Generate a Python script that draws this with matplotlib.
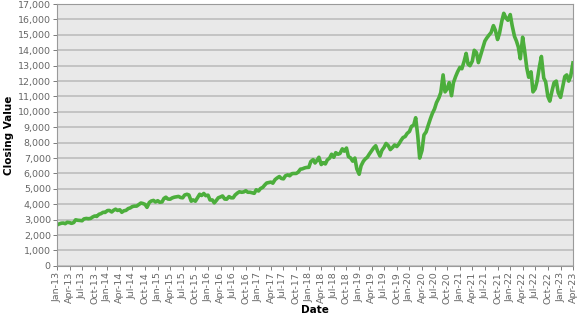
import numpy as np
import pandas as pd
import matplotlib
matplotlib.use("Agg")
import matplotlib.pyplot as plt
import matplotlib.dates as mdates

# semi-monthly closing values (1st and 15th of each month), Jan 2013 - Apr 2023
values_2013 = [2660, 2720, 2770, 2780, 2740, 2830, 2810, 2760, 2810, 2990, 2960, 2950,
               2930, 3050, 3080, 3060, 3080, 3170, 3240, 3210, 3350, 3390, 3480, 3470]
values_2014 = [3590, 3600, 3500, 3610, 3680, 3600, 3640, 3480, 3580, 3600, 3720, 3760,
               3850, 3880, 3880, 3970, 4080, 4050, 3990, 3800, 4120, 4210, 4250, 4150]
values_2015 = [4230, 4130, 4150, 4380, 4460, 4340, 4330, 4410, 4460, 4480, 4510, 4440,
               4420, 4600, 4650, 4600, 4200, 4280, 4200, 4400, 4650, 4570, 4700, 4560]
values_2016 = [4590, 4280, 4280, 4090, 4250, 4420, 4480, 4540, 4340, 4330, 4500, 4420,
               4420, 4600, 4730, 4810, 4780, 4800, 4880, 4780, 4780, 4750, 4710, 4940]
values_2017 = [4860, 5020, 5100, 5250, 5380, 5410, 5440, 5370, 5600, 5700, 5800, 5680,
               5650, 5850, 5910, 5850, 5990, 6000, 6000, 6080, 6280, 6300, 6360, 6390]
values_2018 = [6400, 6770, 6900, 6680, 6850, 7050, 6580, 6700, 6620, 6880, 7000, 7250,
               7050, 7350, 7250, 7300, 7600, 7450, 7650, 7100, 7000, 6800, 7000, 6300]
values_2019 = [5950, 6500, 6800, 6950, 7050, 7250, 7470, 7650, 7800, 7450, 7130, 7500,
               7700, 7950, 7800, 7550, 7700, 7850, 7750, 7900, 8150, 8330, 8400, 8600]
values_2020 = [8730, 9050, 9150, 9620, 8460, 7000, 7500, 8500, 8700, 9100, 9560, 9900,
               10200, 10600, 10900, 11250, 12400, 11300, 11500, 11900, 11050, 11900, 12300, 12600]
values_2021 = [12890, 12800, 13300, 13800, 13100, 13000, 13300, 14000, 13850, 13200, 13700, 14100,
               14600, 14800, 15000, 15150, 15600, 15300, 14700, 15100, 15900, 16400, 16100, 15950]
values_2022 = [16320, 15600, 14900, 14600, 14200, 13450, 14850, 14000, 12850, 12250, 12600, 11300,
               11500, 12000, 12950, 13600, 12200, 11950, 11000, 10700, 11400, 11900, 12000, 11250]
values_2023 = [10940, 11550, 12300, 12400, 12000, 12300, 13180]

closing = (values_2013 + values_2014 + values_2015 + values_2016 + values_2017 +
           values_2018 + values_2019 + values_2020 + values_2021 + values_2022 + values_2023)

months = pd.date_range("2013-01-01", "2023-04-01", freq="MS")
dates = []
for m in months:
    dates.append(m)
    dates.append(m + pd.Timedelta(days=14))
dates = dates[:len(closing)]

tick_dates = pd.date_range("2013-01-01", "2023-04-01", freq="3MS")
tick_labels = [d.strftime("%b-%y") for d in tick_dates]

fig = plt.figure(figsize=(5.77, 3.15), dpi=100)
ax = fig.add_axes([0.099, 0.156, 0.894, 0.831])
ax.set_facecolor("#e9e9e9")

ax.plot(dates, closing, color="#4cae3c", linewidth=2.6, solid_joinstyle="round")

ax.set_ylim(0, 17000)
ax.set_yticks(np.arange(0, 17001, 1000))
ax.yaxis.set_major_formatter(matplotlib.ticker.FuncFormatter(lambda v, p: f"{int(v):,}"))
ax.set_xlim(tick_dates[0], tick_dates[-1])
ax.set_xticks(tick_dates)
ax.set_xticklabels(tick_labels, rotation=90)

ax.grid(True, axis="y", color="#bdbdbd", linewidth=1.2)
ax.set_axisbelow(True)
for side in ax.spines.values():
    side.set_color("#9a9a9a")
    side.set_linewidth(0.8)

ax.tick_params(axis="both", labelsize=6.8, colors="#666666", length=3, width=0.6, pad=1.5)
ax.set_xlabel("Date", fontsize=7.5, fontweight="bold", labelpad=1)
ax.set_ylabel("Closing Value", fontsize=7.5, fontweight="bold", labelpad=3)

fig.savefig("out.png", dpi=100, facecolor="white")
